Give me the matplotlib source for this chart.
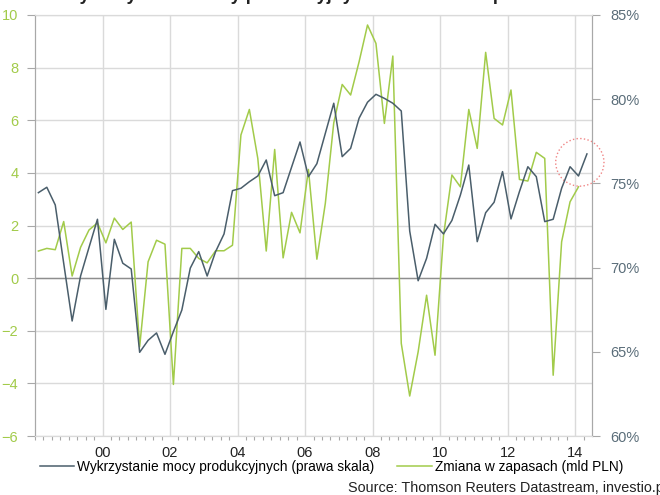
import numpy as np
import matplotlib
matplotlib.use("Agg")
import matplotlib.pyplot as plt
from matplotlib.patches import Ellipse

plt.rcParams['font.family'] = ['Liberation Sans', 'DejaVu Sans']

# kwartały 1998Q1 - 2014Q2
start_year = 1998
n_quarters = 66

# wykorzystanie mocy produkcyjnych, % (prawa oś)
capacity = [74.45, 74.77, 73.72, 70.26, 66.83, 69.5, 71.2, 72.87, 67.52, 71.68,
            70.26, 69.92, 64.97, 65.68, 66.12, 64.85, 66.2, 67.48, 69.97, 70.95,
            69.5, 70.95, 72.0, 74.57, 74.71, 75.1, 75.44, 76.39, 74.27, 74.45,
            75.96, 77.46, 75.4, 76.17, 77.97, 79.76, 76.59, 77.08, 78.87, 79.82,
            80.29, 80.05, 79.76, 79.3, 72.17, 69.22, 70.55, 72.57, 72.0, 72.8,
            74.3, 76.09, 71.54, 73.26, 73.88, 75.7, 72.89, 74.51, 75.99, 75.4,
            72.73, 72.87, 74.71, 75.99, 75.44, 76.75]

# zmiana w zapasach, mld PLN (lewa oś)
inventories = [1.03, 1.13, 1.08, 2.15, 0.08, 1.17, 1.83, 2.10, 1.34, 2.28,
               1.85, 2.13, -2.61, 0.62, 1.44, 1.29, -4.04, 1.13, 1.13, 0.75,
               0.58, 1.04, 1.04, 1.25, 5.44, 6.41, 4.55, 1.03, 4.89, 0.77,
               2.50, 1.72, 4.13, 0.72, 2.84, 5.9, 7.36, 6.96, 8.22, 9.62,
               8.92, 5.88, 8.44, -2.48, -4.48, -2.80, -0.65, -2.93, 1.6, 3.92,
               3.47, 6.41, 4.93, 8.58, 6.07, 5.82, 7.15, 3.75, 3.69, 4.78,
               4.55, -3.69, 1.38, 2.90, 3.47]

year_ticks = [2000, 2002, 2004, 2006, 2008, 2010, 2012, 2014]
year_labels = ['00', '02', '04', '06', '08', '10', '12', '14']
left_ticks = [-6, -4, -2, 0, 2, 4, 6, 8, 10]
right_ticks = [60, 65, 70, 75, 80, 85]

label_blue = 'Wykrzystanie mocy produkcyjnych (prawa skala)'
label_green = 'Zmiana w zapasach (mld PLN)'

c_blue = '#4a5e6b'
c_green = '#a2cb4a'
c_grid = '#dadada'
c_axis = '#a8a8a8'

t = start_year + 0.1 + 0.25 * np.arange(n_quarters)

fig = plt.figure(figsize=(6.6, 4.95), dpi=100)
ax = fig.add_axes([35/660, 59/495, 557/660, 421/495])
ax2 = ax.twinx()

ax.plot(t[:len(inventories)], inventories, color=c_green, lw=1.1)
ax2.plot(t, capacity, color=c_blue, lw=1.1)

ax.set_xlim(1998.0, 2014.5)
ax.set_ylim(-6, 10)
ax2.set_ylim(60, 85)

ax.set_xticks(year_ticks)
ax.set_xticklabels(year_labels)
ax.set_xticks(np.arange(1998, 2014.5, 0.25), minor=True)
ax.set_yticks(left_ticks)
ax2.set_yticks(right_ticks)
ax2.set_yticklabels([f'{v}%' for v in right_ticks])

ax.grid(True, color=c_grid, lw=1)
ax.axhline(0, color='#8e8e8e', lw=1, zorder=1)
ax.set_axisbelow(True)

ax.tick_params(axis='x', which='major', length=0, pad=7, labelsize=10.5, labelcolor='#222222')
ax.tick_params(axis='x', which='minor', length=3, color=c_axis, width=0.8)
ax.tick_params(axis='y', length=6, color=c_axis, pad=6, labelsize=10.5, labelcolor=c_green)
ax2.tick_params(axis='y', length=6, color=c_axis, pad=7, labelsize=10.5, labelcolor='#5a6d79')

for a in (ax, ax2):
    a.spines['top'].set_color(c_grid)
    a.spines['bottom'].set_color(c_grid)
    a.spines['left'].set_color(c_axis)
    a.spines['right'].set_color(c_axis)

# zaznaczenie ostatnich odczytów
ax.add_patch(Ellipse((2014.14, 4.40), width=1.43, height=1.81, fill=False,
                     ls=':', ec='#f08585', lw=1.0, clip_on=False, zorder=5))

h_blue, = ax.plot([], [], color=c_blue, lw=1.1)
h_green, = ax.plot([], [], color=c_green, lw=1.1)
fig.legend([h_blue, h_green], [label_blue, label_green], loc='center left',
           bbox_to_anchor=(40/660, 1 - 467/495), ncol=2, frameon=False,
           fontsize=9.9, handlelength=2.5, handletextpad=0.22, columnspacing=1.65,
           borderaxespad=0, borderpad=0)

fig.text(348/660, 1 - 488/495, 'Source: Thomson Reuters Datastream, investio.pl',
         fontsize=10.4, color='#222222', va='center', ha='left')

fig.text(63/660, 1.0, 'Wykorzystanie mocy produkcyjnych i zmiana w zapasach',
         fontsize=13, fontweight='bold', color='#222222', ha='left', va='baseline')

fig.savefig('out.png', dpi=100)
